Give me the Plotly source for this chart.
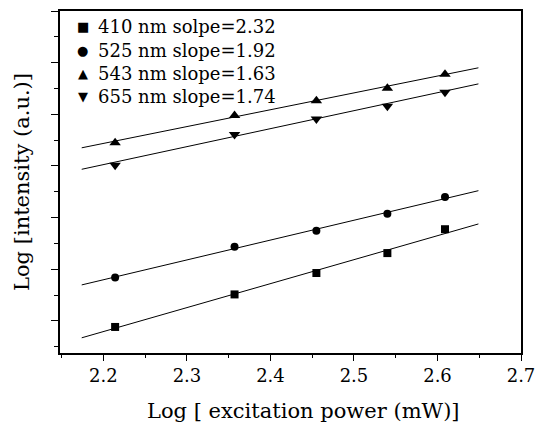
import plotly.graph_objects as go

# ---- data ----
power_log = [2.214, 2.357, 2.455, 2.540, 2.609]
series_names = ["410 nm solpe=2.32", "525 nm slope=1.92", "543 nm slope=1.63", "655 nm slope=1.74"]
series_symbols = ["square", "circle", "triangle-up", "triangle-down"]
legend_glyphs = ["\u25A0", "\u25CF", "\u25B2", "\u25BC"]
y_410 = [0.942, 1.257, 1.464, 1.657, 1.888]
y_525 = [1.420, 1.718, 1.872, 2.038, 2.199]
y_543 = [2.724, 2.988, 3.132, 3.253, 3.388]
y_655 = [2.507, 2.805, 2.955, 3.077, 3.214]
fit_slopes = [2.32, 1.92, 1.63, 1.74]
fit_x = [2.174, 2.649]
fit_start = [0.837, 1.349, 2.676, 2.468]
x_ticks = [2.2, 2.3, 2.4, 2.5, 2.6, 2.7]
x_title = "Log [ excitation power (mW)]"
y_title = "Log [intensity (a.u.)]"

series_y = [y_410, y_525, y_543, y_655]

FONT = "DejaVu Serif"
W, H = 544, 424
ML, MR, MT, MB = 60, 17, 9, 71
PW, PH = W - ML - MR, H - MT - MB


def px_to_paper(xp, yp):
    return (xp - ML) / PW, (H - MB - yp) / PH


fig = go.Figure()

for sym, slope, y0 in zip(series_symbols, fit_slopes, fit_start):
    fy = [y0 + slope * (x - fit_x[0]) for x in fit_x]
    fig.add_trace(go.Scatter(x=fit_x, y=fy, mode="lines",
                             line=dict(color="black", width=1), showlegend=False,
                             hoverinfo="skip"))

for name, sym, ys in zip(series_names, series_symbols, series_y):
    size = 10 if sym.startswith("triangle") else 8
    fig.add_trace(go.Scatter(x=power_log, y=ys, mode="markers", name=name,
                             showlegend=False,
                             marker=dict(symbol=sym, size=size, color="black")))

# legend drawn as text (symbol + label)
legend_rows_px = [25, 48.5, 71.5, 95]
for name, glyph, ypx in zip(series_names, legend_glyphs, legend_rows_px):
    xs, ys = px_to_paper(83, ypx)
    fig.add_annotation(x=xs, y=ys, xref="paper", yref="paper", text=glyph,
                       showarrow=False, xanchor="center", yanchor="middle",
                       font=dict(size=13, family="DejaVu Sans", color="black"))
    xt, yt = px_to_paper(96, ypx)
    fig.add_annotation(x=xt, y=yt, xref="paper", yref="paper", text=name,
                       showarrow=False, xanchor="left", yanchor="middle",
                       font=dict(size=18, family=FONT, color="black"))

# x-axis title (slightly right of centre, as in the reference)
xtx, xty = px_to_paper(307, 411)
fig.add_annotation(x=xtx, y=xty, xref="paper", yref="paper", text=x_title,
                   showarrow=False, xanchor="center", yanchor="middle",
                   font=dict(size=21, family=FONT, color="black"))

fig.update_layout(
    width=W, height=H,
    margin=dict(l=ML, r=MR, t=MT, b=MB),
    paper_bgcolor="white", plot_bgcolor="white",
    font=dict(family=FONT, color="black"),
    showlegend=False,
)

fig.update_xaxes(
    range=[2.148, 2.7], tickmode="array", tickvals=x_ticks,
    ticktext=[f"{v:.1f}" for v in x_ticks],
    ticks="outside", ticklen=6, tickwidth=1.2, tickcolor="black",
    minor=dict(ticks="outside", ticklen=3, dtick=0.05, tick0=2.2, tickcolor="black", tickwidth=1.2),
    showline=True, linecolor="black", linewidth=1.5, mirror=True,
    showgrid=False, zeroline=False,
    tickfont=dict(size=18, family=FONT),
)
fig.update_yaxes(
    range=[0.69, 4.0], dtick=0.5, tick0=1.0, showticklabels=False,
    ticks="outside", ticklen=7, tickwidth=1.2, tickcolor="black",
    minor=dict(ticks="outside", ticklen=4, dtick=0.25, tick0=1.0, tickcolor="black", tickwidth=1.2),
    showline=True, linecolor="black", linewidth=1.5, mirror=True,
    showgrid=False, zeroline=False,
    title=dict(text=y_title, font=dict(size=21, family=FONT), standoff=16),
)

fig.write_html("out.html")
